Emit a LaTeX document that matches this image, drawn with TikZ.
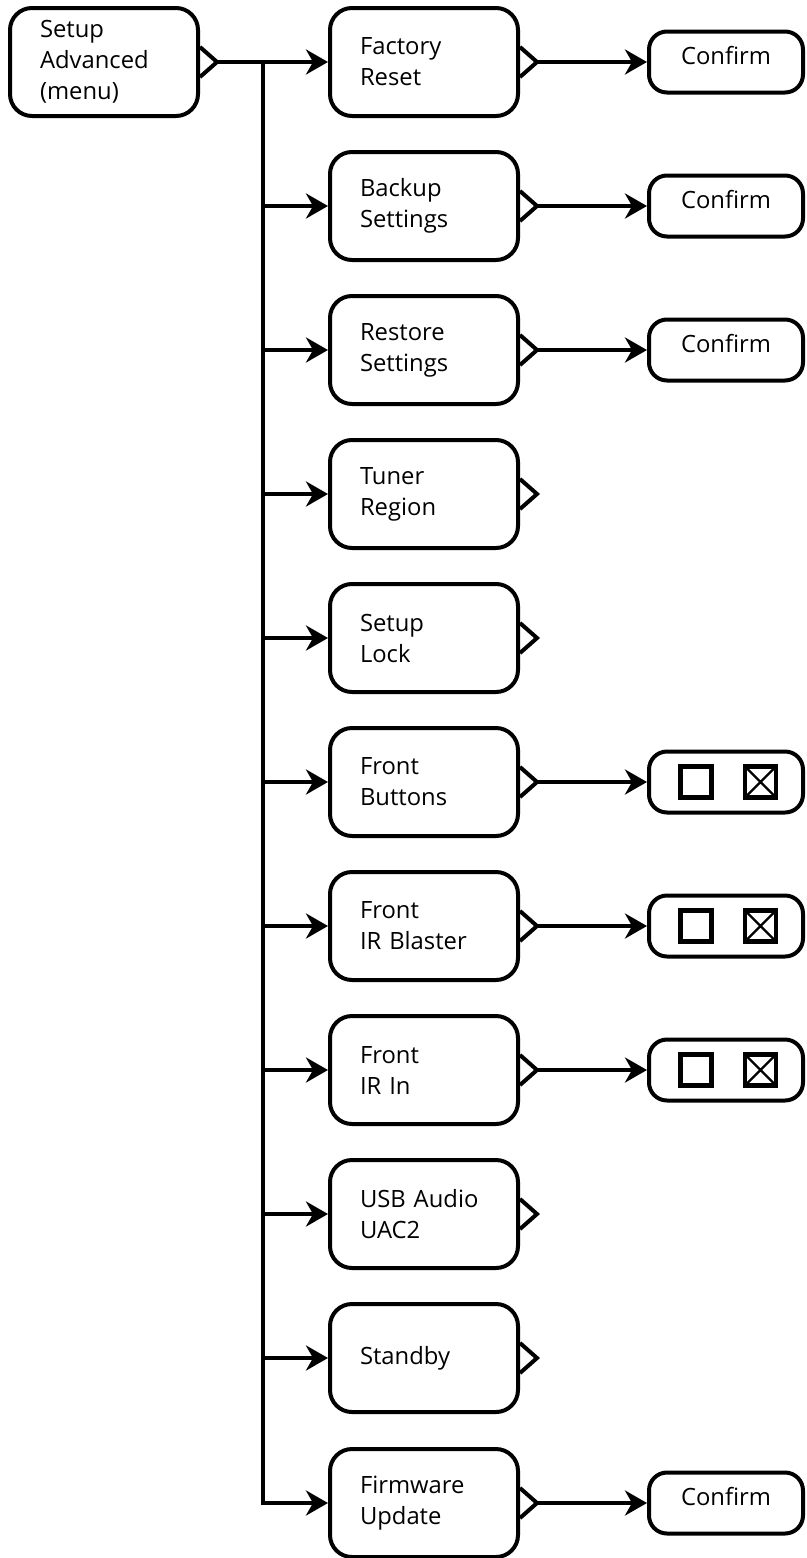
\documentclass[tikz,border=0pt]{standalone}
\usepackage{fontspec}
\setmainfont{Open Sans}
\usetikzlibrary{arrows.meta}

\tikzset{
  menu/.style={draw,line width=2pt,rounded corners=11pt,text width=64pt,inner xsep=15pt,inner ysep=0pt,
    minimum height=54pt,align=left,font=\fontsize{11.9}{15.5}\selectfont},
  pick/.style={draw,line width=2pt,rounded corners=9pt,minimum width=77pt,minimum height=30.5pt,inner sep=0pt,
    font=\fontsize{11.9}{15.5}\selectfont},
  link/.style={line width=2pt,-{Stealth[length=11pt,width=12.5pt,inset=3.5pt]}},
  tab/.style={line width=2pt,line join=miter},
  tick/.style={draw,line width=2.2pt,minimum size=15.5pt,inner sep=0pt},
  ticked/.style={tick,path picture={\draw[line width=1.2pt]
    (path picture bounding box.north west) -- (path picture bounding box.south east)
    (path picture bounding box.north east) -- (path picture bounding box.south west);}}
}

% small open wedge on the right side of a menu box
\newcommand{\menutab}[1]{%
  \coordinate (#1-tip) at ([xshift=8.5pt]#1.east);
  \draw[tab] ([yshift=7.5pt]#1.east) -- (#1-tip) -- ([yshift=-7.5pt]#1.east);}

\begin{document}
\begin{tikzpicture}[x=0.5pt,y=-0.5pt]
  \useasboundingbox (0,0) rectangle (807,1558);

  \node[menu] (root) at (104,62) {Setup\\Advanced\\(menu)};
  \menutab{root}

  % second level
  \node[menu] (reset) at (424,62) {Factory\\Reset};
  \node[menu] (backup) at (424,206) {Backup\\Settings};
  \node[menu] (restore) at (424,350) {Restore\\Settings};
  \node[menu] (tuner) at (424,494) {Tuner\\Region};
  \node[menu] (lock) at (424,638) {Setup\\Lock};
  \node[menu] (buttons) at (424,782) {Front\\Buttons};
  \node[menu] (blaster) at (424,926) {Front\\IR Blaster};
  \node[menu] (irin) at (424,1070) {Front\\IR In};
  \node[menu] (usb) at (424,1214) {USB Audio\\UAC2};
  \node[menu] (standby) at (424,1358) {Standby};
  \node[menu] (firmware) at (424,1503) {Firmware\\Update};
  \menutab{reset} \menutab{backup} \menutab{restore} \menutab{tuner}
  \menutab{lock} \menutab{buttons} \menutab{blaster} \menutab{irin}
  \menutab{usb} \menutab{standby} \menutab{firmware}

  % third level
  \node[pick,text depth=7pt] (resetok) at (726,62) {Confirm};
  \node[pick,text depth=7pt] (backupok) at (726,206) {Confirm};
  \node[pick,text depth=7pt] (restoreok) at (726,350) {Confirm};
  \node[pick,text depth=7pt] (firmwareok) at (726,1503) {Confirm};
  \node[pick] (buttonsset) at (726,782) {};
  \node[pick] (blasterset) at (726,926) {};
  \node[pick] (irinset) at (726,1070) {};
  \node[tick] (buttonsoff) at ([xshift=-15pt]buttonsset.center) {};
  \node[ticked] (buttonson) at ([xshift=17.25pt]buttonsset.center) {};
  \node[tick] (blasteroff) at ([xshift=-15pt]blasterset.center) {};
  \node[ticked] (blasteron) at ([xshift=17.25pt]blasterset.center) {};
  \node[tick] (irinoff) at ([xshift=-15pt]irinset.center) {};
  \node[ticked] (irinon) at ([xshift=17.25pt]irinset.center) {};

  % trunk
  \coordinate (trunk) at (263,62);
  \draw[link] (root-tip) -- (reset);
  \draw[link,line join=miter] (trunk) |- (firmware);
  \draw[link] (trunk |- backup) -- (backup);
  \draw[link] (trunk |- restore) -- (restore);
  \draw[link] (trunk |- tuner) -- (tuner);
  \draw[link] (trunk |- lock) -- (lock);
  \draw[link] (trunk |- buttons) -- (buttons);
  \draw[link] (trunk |- blaster) -- (blaster);
  \draw[link] (trunk |- irin) -- (irin);
  \draw[link] (trunk |- usb) -- (usb);
  \draw[link] (trunk |- standby) -- (standby);

  \draw[link] (reset-tip) -- (resetok);
  \draw[link] (backup-tip) -- (backupok);
  \draw[link] (restore-tip) -- (restoreok);
  \draw[link] (buttons-tip) -- (buttonsset);
  \draw[link] (blaster-tip) -- (blasterset);
  \draw[link] (irin-tip) -- (irinset);
  \draw[link] (firmware-tip) -- (firmwareok);
\end{tikzpicture}
\end{document}
